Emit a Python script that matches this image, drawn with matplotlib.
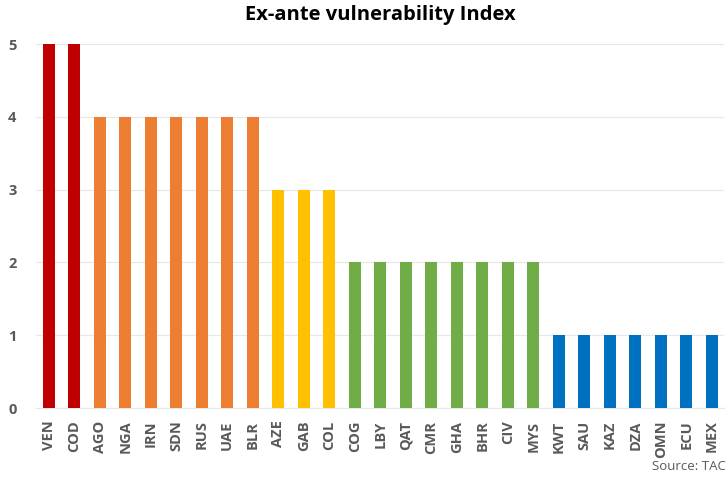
import matplotlib.pyplot as plt

countries = ['VEN', 'COD', 'AGO', 'NGA', 'IRN', 'SDN', 'RUS', 'UAE', 'BLR',
             'AZE', 'GAB', 'COL', 'COG', 'LBY', 'QAT', 'CMR', 'GHA', 'BHR',
             'CIV', 'MYS', 'KWT', 'SAU', 'KAZ', 'DZA', 'OMN', 'ECU', 'MEX']
index_values = [5, 5, 4, 4, 4, 4, 4, 4, 4,
                3, 3, 3, 2, 2, 2, 2, 2, 2,
                2, 2, 1, 1, 1, 1, 1, 1, 1]
yticks = [0, 1, 2, 3, 4, 5]

level_colors = {5: '#C00000', 4: '#ED7D31', 3: '#FFC000', 2: '#70AD47', 1: '#0070C0'}
bar_colors = [level_colors[v] for v in index_values]

plt.rcParams['font.family'] = ['Open Sans', 'DejaVu Sans']

fig = plt.figure(figsize=(7.27, 4.79), dpi=100)
ax = fig.add_axes([0.0495, 0.148, 0.947, 0.760])

x = range(len(countries))
ax.bar(x, index_values, width=0.47, color=bar_colors, zorder=3)

ax.set_xlim(-0.5, len(countries) - 0.5)
ax.set_ylim(0, 5)
ax.set_yticks(yticks)
ax.set_xticks(list(x))
ax.set_xticklabels(countries, rotation=90)
ax.grid(axis='y', color='#E8E8E8', linewidth=0.9, zorder=0)
ax.tick_params(axis='both', length=0, labelcolor='#595959', labelsize=10.5)
ax.tick_params(axis='y', pad=14)
ax.tick_params(axis='x', pad=9)
for lbl in ax.get_xticklabels() + ax.get_yticklabels():
    lbl.set_fontweight('bold')

for side in ['top', 'right', 'left']:
    ax.spines[side].set_visible(False)
ax.spines['bottom'].set_color('#E8E8E8')

fig.text(0.523, 0.968, 'Ex-ante vulnerability Index', ha='center', va='center',
         fontsize=14.5, fontweight='bold', color='black')
fig.text(0.897, 0.027, 'Source: TAC', ha='left', va='center',
         fontsize=9.5, color='#595959')

plt.savefig('out.png', dpi=100)
plt.close()
